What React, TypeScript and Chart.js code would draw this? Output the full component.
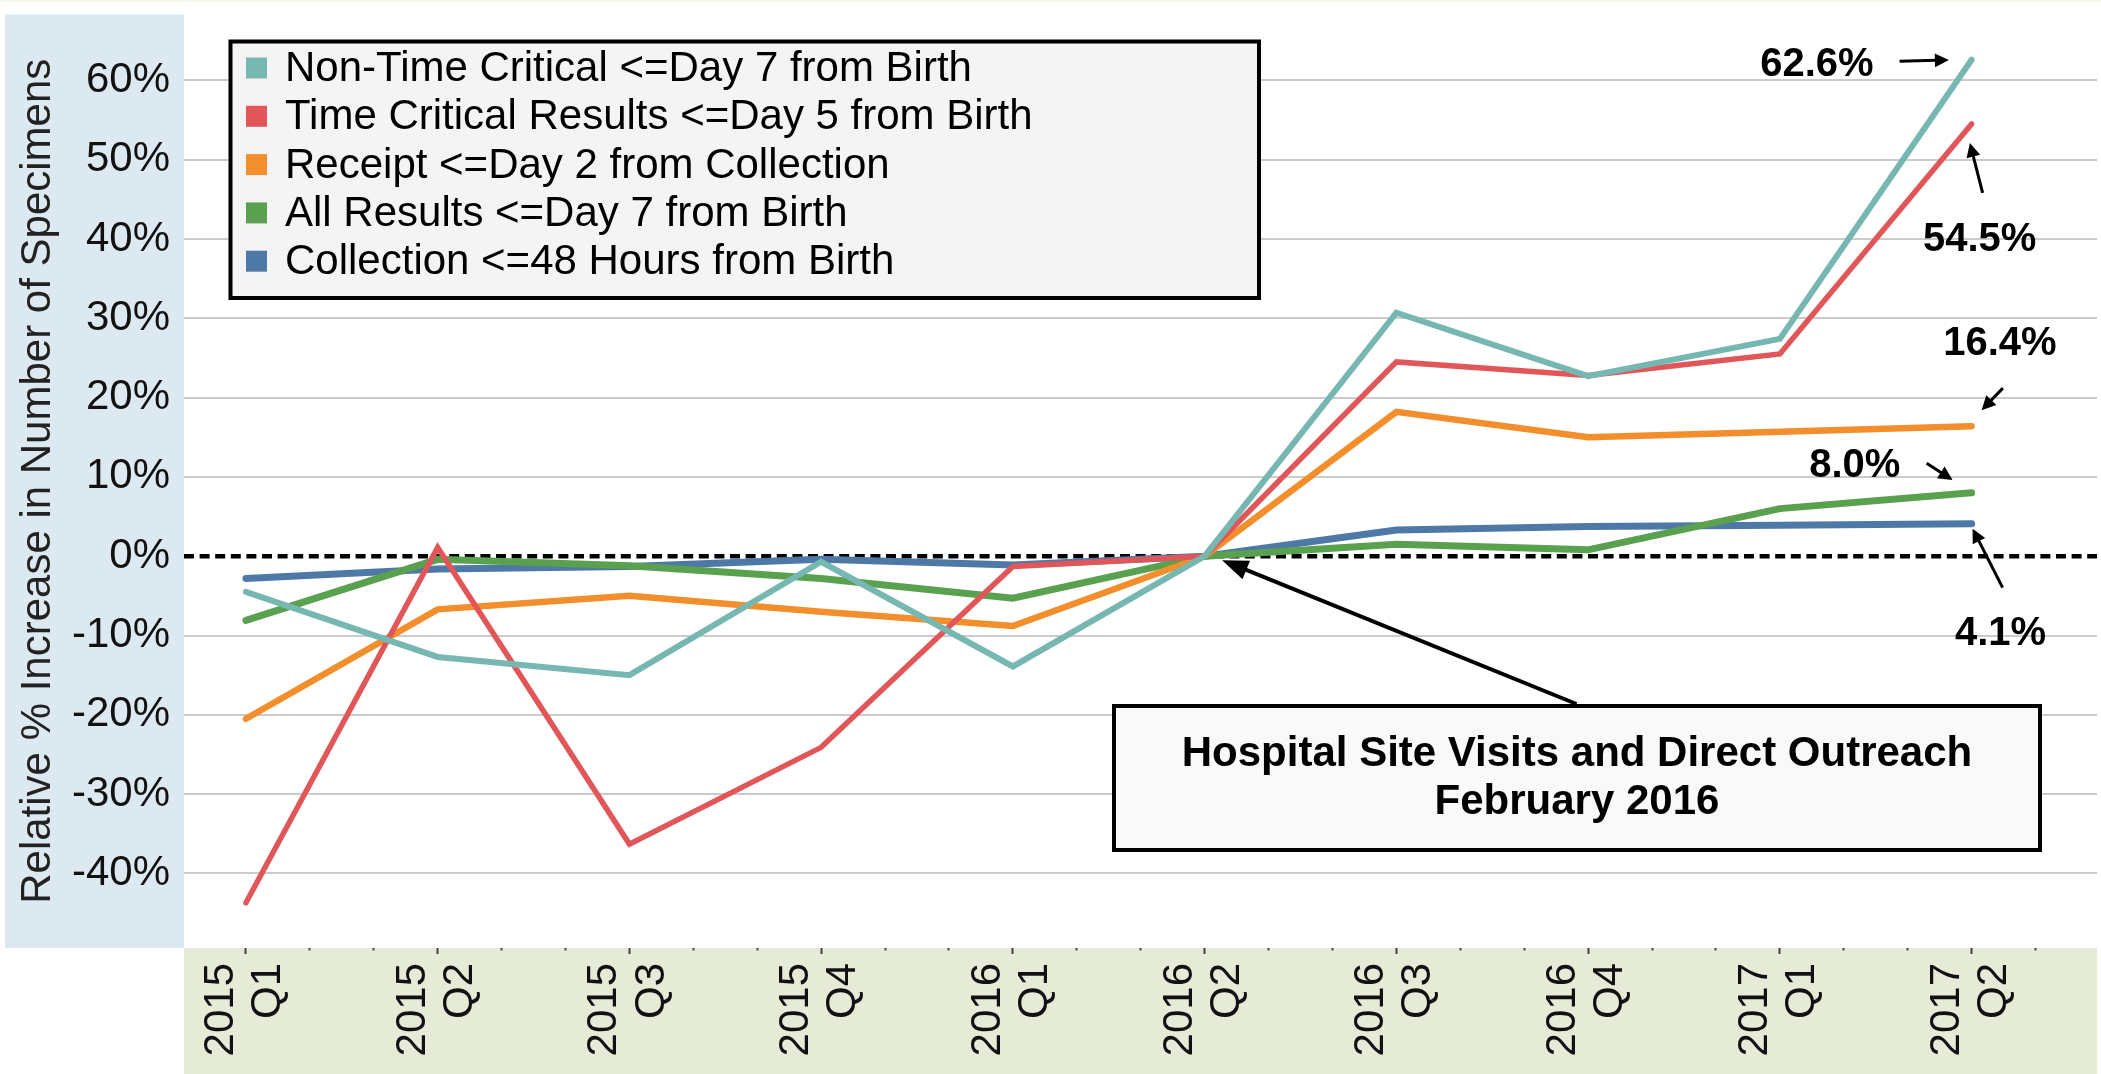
import React, { useEffect, useRef } from 'react';
import { Chart, registerables } from 'chart.js';

Chart.register(...registerables);

// ---------- data ----------
const years = ['2015', '2015', '2015', '2015', '2016', '2016', '2016', '2016', '2017', '2017'];
const quarters = ['Q1', 'Q2', 'Q3', 'Q4', 'Q1', 'Q2', 'Q3', 'Q4', 'Q1', 'Q2'];

const seriesNames = [
  'Non-Time Critical <=Day 7 from Birth',
  'Time Critical Results <=Day 5 from Birth',
  'Receipt <=Day 2 from Collection',
  'All Results <=Day 7 from Birth',
  'Collection <=48 Hours from Birth',
];

const nonTimeCritical = [-4.5, -12.7, -15.0, -0.7, -13.9, 0, 30.7, 22.7, 27.4, 62.6];
const timeCritical = [-43.7, 1.1, -36.3, -24.1, -1.3, 0, 24.5, 22.8, 25.5, 54.5];
const receipt = [-20.5, -6.7, -5.0, -7.0, -8.8, 0, 18.2, 15.0, 15.7, 16.4];
const allResults = [-8.1, -0.4, -1.2, -2.8, -5.3, 0, 1.5, 0.8, 6.0, 8.0];
const collection = [-2.8, -1.6, -1.3, -0.4, -1.1, 0, 3.3, 3.75, 3.9, 4.1];

const yTickValues = [-40, -30, -20, -10, 0, 10, 20, 30, 40, 50, 60];
const yTitle = 'Relative % Increase in Number of Specimens';
const noteLines = ['Hospital Site Visits and Direct Outreach', 'February 2016'];
const noteIndex = 5; // 2016 Q2

// ---------- styles ----------
const FONT = "'Liberation Sans', Arial, Helvetica, sans-serif";
const colors = ['#76b7b2', '#e15759', '#f28e2b', '#59a14f', '#4e79a7'];
const widths = [6, 5.5, 6.5, 7, 7];
const seriesValues = [nonTimeCritical, timeCritical, receipt, allResults, collection];

// label offsets relative to the last point of each series (styles only)
const endLabelStyle = [
  { tx: -98, ty: 16, align: 'right', ax1: -72, ay1: 1.6, ax2: -22.7, ay2: 0.3 },
  { tx: 8, ty: 127.5, align: 'center', ax1: 11, ay1: 69, ax2: -1.7, ay2: 19 },
  { tx: 28.3, ty: -71, align: 'center', ax1: 31.3, ay1: -38, ax2: 10, ay2: -16 },
  { tx: -116.8, ty: -15.4, align: 'center', ax1: -45, ay1: -29.4, ax2: -19, ay2: -12.7 },
  { tx: 29, ty: 121.7, align: 'center', ax1: 31, ay1: 64, ax2: 1, ay2: 5 },
];

function drawArrow(ctx: CanvasRenderingContext2D, x1: number, y1: number, x2: number, y2: number, lw: number, headLen: number, headW: number) {
  const ang = Math.atan2(y2 - y1, x2 - x1);
  const bx = x2 - headLen * Math.cos(ang);
  const by = y2 - headLen * Math.sin(ang);
  ctx.save();
  ctx.strokeStyle = '#000';
  ctx.fillStyle = '#000';
  ctx.lineWidth = lw;
  ctx.lineCap = 'butt';
  ctx.beginPath();
  ctx.moveTo(x1, y1);
  ctx.lineTo(bx + Math.cos(ang) * 2, by + Math.sin(ang) * 2);
  ctx.stroke();
  ctx.beginPath();
  ctx.moveTo(x2, y2);
  ctx.lineTo(bx + headW * Math.sin(ang), by - headW * Math.cos(ang));
  ctx.lineTo(bx - headW * Math.sin(ang), by + headW * Math.cos(ang));
  ctx.closePath();
  ctx.fill();
  ctx.restore();
}

const backgroundPlugin = {
  id: 'bgBands',
  beforeDraw(chart: any) {
    const { ctx, chartArea: ca, width, height } = chart;
    ctx.save();
    ctx.fillStyle = '#ffffff';
    ctx.fillRect(0, 0, width, height);
    ctx.fillStyle = '#f8f4ee';
    ctx.fillRect(0, 0, width, 2);
    ctx.fillStyle = '#dde9f0';
    ctx.fillRect(5, ca.top, ca.left - 5, ca.bottom - ca.top);
    ctx.fillStyle = '#e6ebd8';
    ctx.fillRect(ca.left, ca.bottom, ca.right - ca.left, height - ca.bottom);
    ctx.restore();
  },
  beforeDatasetsDraw(chart: any) {
    const { ctx, chartArea: ca, scales } = chart;
    const y0 = scales.y.getPixelForValue(0);
    ctx.save();
    ctx.strokeStyle = '#000';
    ctx.lineWidth = 4.5;
    ctx.setLineDash([10, 5.6]);
    ctx.beginPath();
    ctx.moveTo(ca.left, y0);
    ctx.lineTo(ca.right, y0);
    ctx.stroke();
    ctx.restore();
  },
};

const annotationPlugin = {
  id: 'annotations',
  afterDatasetsDraw(chart: any) {
    const { ctx, chartArea: ca, scales } = chart;
    const xs = scales.x;
    const ys = scales.y;
    ctx.save();

    // ----- legend box -----
    const lx = ca.left + 44.5;
    const ly = ca.top + 25;
    const lw = 1032.5;
    const lh = 260.5;
    ctx.fillStyle = '#f4f4f4';
    ctx.fillRect(lx, ly, lw, lh);
    ctx.strokeStyle = '#000';
    ctx.lineWidth = 4;
    ctx.strokeRect(lx + 2, ly + 2, lw - 4, lh - 4);
    ctx.font = `42px ${FONT}`;
    ctx.textAlign = 'left';
    ctx.textBaseline = 'alphabetic';
    chart.data.datasets.forEach((ds: any, i: number) => {
      const cy = ly + 28.5 + i * 48.3;
      ctx.fillStyle = ds.borderColor;
      ctx.fillRect(lx + 17.5, cy - 10.5, 21, 21);
      ctx.fillStyle = '#000';
      ctx.fillText(ds.label, lx + 56.5, cy + 13);
    });

    // ----- note box with arrow -----
    const bx = ca.left + 928;
    const by = ca.top + 689.5;
    const bw = 930;
    const bh = 148;
    const px = xs.getPixelForValue(noteIndex);
    const py = ys.getPixelForValue(seriesValues[0][noteIndex]);
    drawArrow(ctx, bx + 464.5, by, px + 17.5, py + 4, 4, 26, 10);
    ctx.fillStyle = '#f9f9f9';
    ctx.fillRect(bx, by, bw, bh);
    ctx.strokeStyle = '#000';
    ctx.lineWidth = 4;
    ctx.strokeRect(bx + 2, by + 2, bw - 4, bh - 4);
    ctx.fillStyle = '#000';
    ctx.font = `bold 42px ${FONT}`;
    ctx.textAlign = 'center';
    ctx.fillText(noteLines[0], bx + bw / 2, by + 62);
    ctx.fillText(noteLines[1], bx + bw / 2, by + 109.5);

    // ----- end value labels -----
    ctx.font = `bold 40px ${FONT}`;
    seriesValues.forEach((vals, i) => {
      const last = vals.length - 1;
      const ex = xs.getPixelForValue(last);
      const ey = ys.getPixelForValue(vals[last]);
      const s = endLabelStyle[i];
      ctx.textAlign = s.align as CanvasTextAlign;
      ctx.fillStyle = '#000';
      ctx.fillText(vals[last].toFixed(1) + '%', ex + s.tx, ey + s.ty);
      drawArrow(ctx, ex + s.ax1, ey + s.ay1, ex + s.ax2, ey + s.ay2, 3, 14, 7);
    });

    ctx.restore();
  },
};

export default function App() {
  const canvasRef = useRef<HTMLCanvasElement | null>(null);

  useEffect(() => {
    const canvas = canvasRef.current;
    if (!canvas) return;
    const datasets = seriesValues.map((vals, i) => ({
      label: seriesNames[i],
      data: vals.map((v, k) => ({ x: k, y: v })),
      borderColor: colors[i],
      backgroundColor: colors[i],
      borderWidth: widths[i],
      pointRadius: 0,
      pointHoverRadius: 0,
      tension: 0,
      borderCapStyle: 'round' as const,
      borderJoinStyle: 'miter' as const,
      fill: false,
    }));

    const chart = new Chart(canvas, {
      type: 'line',
      data: { datasets },
      options: {
        animation: false,
        responsive: false,
        devicePixelRatio: 1,
        events: [],
        layout: { padding: { top: 14.5, right: 4, left: 0, bottom: 0 } },
        plugins: {
          legend: { display: false },
          tooltip: { enabled: false },
        },
        scales: {
          x: {
            type: 'linear',
            min: -0.323,
            max: 9.654,
            afterBuildTicks: (s: any) => {
              const t: any[] = [];
              for (let k = 0; k <= 3 * (years.length - 1) + 3; k++) {
                const v = k / 3;
                if (v <= s.max) t.push({ value: v });
              }
              s.ticks = t;
            },
            ticks: {
              autoSkip: false,
              minRotation: 90,
              maxRotation: 90,
              padding: 9,
              labelOffset: -24.5,
              color: '#111',
              font: { family: FONT, size: 42, lineHeight: 1.12 },
              callback: (v: any) => {
                const i = Math.round(v);
                return Math.abs(v - i) < 1e-6 && i >= 0 && i < years.length ? [years[i], quarters[i]] : '';
              },
            },
            grid: {
              drawOnChartArea: false,
              drawTicks: true,
              tickLength: 6,
              tickWidth: 2,
              tickColor: '#444',
              color: 'rgba(0,0,0,0)',
              tickBorderDash: (c: any) => {
                const v = c.tick ? c.tick.value : 0;
                return Math.abs(v - Math.round(v)) < 1e-6 ? [] : [2.5, 100];
              },
            } as any,
            border: { display: false },
            afterFit: (s: any) => {
              s.height = 126;
              s.paddingLeft = 0;
              s.paddingRight = 0;
            },
          },
          y: {
            type: 'linear',
            min: -49.4,
            max: 68.3,
            afterBuildTicks: (s: any) => {
              s.ticks = yTickValues.map((v) => ({ value: v }));
            },
            ticks: {
              padding: 14,
              color: '#111',
              font: { family: FONT, size: 42 },
              callback: (v: any) => v + '%',
            },
            grid: {
              drawTicks: false,
              lineWidth: 2,
              color: (c: any) => (c.tick && c.tick.value === 0 ? 'rgba(0,0,0,0)' : '#cbcbcb'),
            },
            border: { display: false },
            title: {
              display: true,
              text: yTitle,
              color: '#222',
              font: { family: FONT, size: 42 },
              padding: { top: 13, bottom: 0 },
            },
            afterFit: (s: any) => {
              s.width = 184;
              s.paddingTop = 0;
              s.paddingBottom = 0;
            },
          },
        },
      },
      plugins: [backgroundPlugin, annotationPlugin],
    });

    return () => {
      chart.destroy();
    };
  }, []);

  return (
    <div style={{ position: 'fixed', left: 0, top: 0, width: 2101, height: 1074, background: '#fff' }}>
      <canvas ref={canvasRef} width={2101} height={1074} style={{ display: 'block', width: 2101, height: 1074 }} />
    </div>
  );
}
